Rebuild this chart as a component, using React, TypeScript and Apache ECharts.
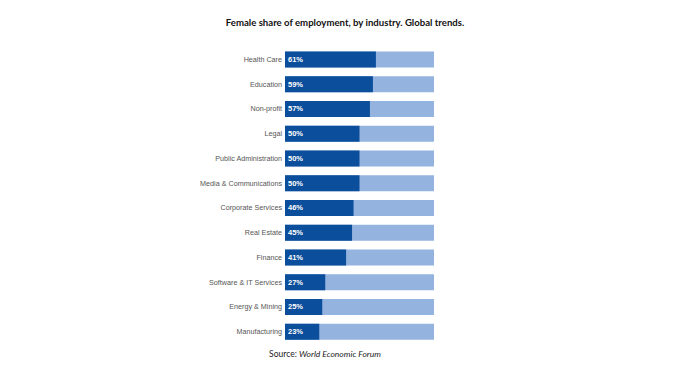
import React, { useEffect, useRef } from "react";
import * as echarts from "echarts";

const categories = [
  "Health Care",
  "Education",
  "Non-profit",
  "Legal",
  "Public Administration",
  "Media & Communications",
  "Corporate Services",
  "Real Estate",
  "Finance",
  "Software & IT Services",
  "Energy & Mining",
  "Manufacturing",
];
const femaleShare = [61, 59, 57, 50, 50, 50, 46, 45, 41, 27, 25, 23];
const titleText = "Female share of employment, by industry. Global trends.";

export default function App() {
  const ref = useRef<HTMLDivElement>(null);
  useEffect(() => {
    if (!ref.current) return;
    const chart = echarts.init(ref.current, null, { renderer: "svg" });
    chart.setOption({
      animation: false,
      backgroundColor: "#ffffff",
      title: [
        {
          text: titleText,
          left: 332,
          textAlign: "center",
          top: 4,
          textStyle: { fontFamily: "Lato", fontWeight: "bold", fontSize: 9.6, color: "#111" },
        },
        {
          text: "{n|Source: }{i|World Economic Forum}",
          left: 312,
          textAlign: "center",
          top: 336,
          textStyle: {
            fontWeight: "normal",
            rich: {
              n: { fontFamily: "Lato", fontSize: 8.5, color: "#222", fontWeight: "normal" },
              i: { fontFamily: "Lato", fontSize: 8.5, fontStyle: "italic", color: "#222", fontWeight: "normal" },
            },
          },
        },
      ],
      grid: { left: 277, right: 258, top: 39, height: 297 },
      xAxis: {
        type: "value",
        min: 0,
        max: 100,
        show: false,
      },
      yAxis: {
        type: "category",
        data: categories,
        inverse: true,
        axisLine: { show: false },
        axisTick: { show: false },
        axisLabel: {
          fontFamily: "Liberation Sans",
          fontSize: 7.2,
          color: "#555",
          margin: 3,
        },
      },
      series: [
        {
          type: "bar",
          data: femaleShare,
          barWidth: 16,
          itemStyle: { color: "#0b4e9b" },
          showBackground: true,
          backgroundStyle: { color: "#94b3df" },
          label: {
            show: true,
            position: "insideLeft",
            distance: 3,
            formatter: "{c}%",
            color: "#ffffff",
            fontFamily: "Liberation Sans",
            fontSize: 7.5,
            fontWeight: "bold",
          },
        },
      ],
    });
    return () => chart.dispose();
  }, []);
  return <div ref={ref} style={{ width: 684, height: 352 }} />;
}
